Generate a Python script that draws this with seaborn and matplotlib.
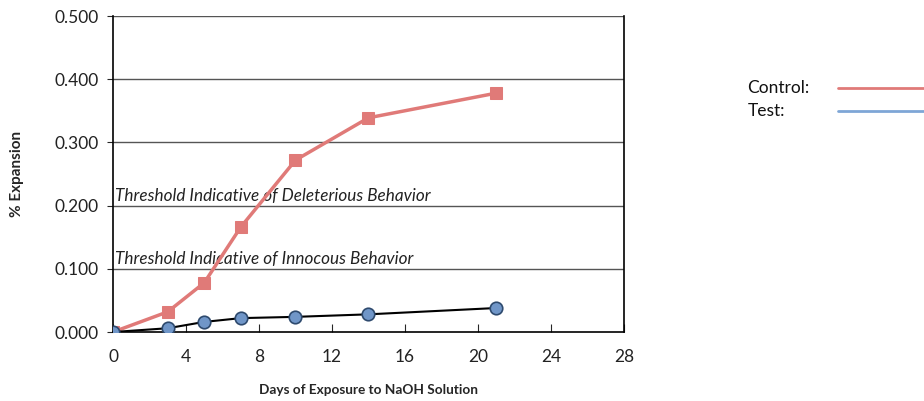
import matplotlib
matplotlib.use("Agg")
import matplotlib.pyplot as plt
import seaborn as sns
import pandas as pd
from matplotlib.lines import Line2D

# 数据
days_control = [0, 3, 5, 7, 10, 14, 21]
exp_control = [0.000, 0.032, 0.078, 0.166, 0.272, 0.339, 0.378]
days_test = [0, 3, 5, 7, 10, 14, 21]
exp_test = [0.000, 0.006, 0.016, 0.022, 0.024, 0.028, 0.038]
x_ticks = [0, 4, 8, 12, 16, 20, 24, 28]
y_ticks = [0.0, 0.1, 0.2, 0.3, 0.4, 0.5]
thresholds = [0.200, 0.100]
threshold_labels = ["Threshold Indicative of Deleterious Behavior",
                    "Threshold Indicative of Innocous Behavior"]
legend_labels = ["Control:", "Test:"]

df_c = pd.DataFrame({"day": days_control, "exp": exp_control})
df_t = pd.DataFrame({"day": days_test, "exp": exp_test})

sns.set_style("white")
plt.rcParams["font.family"] = ["Lato", "DejaVu Sans"]

red = "#E07A78"
blue = "#7EA6D6"

fig = plt.figure(figsize=(9.24, 4.01), dpi=100)
ax = fig.add_axes([0.1223, 0.172, 0.553, 0.788])

# 网格线
for y in y_ticks[1:]:
    ax.axhline(y, color="#555555", lw=1.0, zorder=1)

sns.lineplot(data=df_c, x="day", y="exp", ax=ax, color=red, lw=2.5,
             marker="s", markersize=8, markeredgecolor=red, zorder=3)
sns.lineplot(data=df_t, x="day", y="exp", ax=ax, color="black", lw=1.5,
             marker="o", markersize=9, markerfacecolor="#7096C8",
             markeredgecolor="#2E4A6E", markeredgewidth=1.2, zorder=4)

for y, lab in zip(thresholds, threshold_labels):
    ax.text(0.1, y + 0.003, lab, fontstyle="italic", fontsize=12.3,
            va="bottom", ha="left", color="#222222", zorder=2)

ax.set_xlim(0, 28)
ax.set_ylim(0, 0.5)
ax.set_xticks(x_ticks)
ax.set_yticks(y_ticks)
ax.set_yticklabels([f"{v:.3f}" for v in y_ticks])
ax.tick_params(axis="x", direction="in", length=6, labelsize=12.5, pad=12,
               labelcolor="#222222")
ax.tick_params(axis="y", direction="out", length=4, labelsize=12.5, pad=6,
               labelcolor="#222222")
ax.tick_params(bottom=True, left=True)
for s in ["left", "right", "bottom"]:
    ax.spines[s].set_color("black")
    ax.spines[s].set_linewidth(1.2)
ax.spines["top"].set_visible(False)

ax.set_xlabel("Days of Exposure to NaOH Solution", fontweight="bold",
              fontsize=9.8, labelpad=14)
ax.set_ylabel("% Expansion", fontweight="bold", fontsize=11, labelpad=22)

# 图例 (文字在前, 线在后)
legend_colors = [red, blue]
legend_y = [0.78, 0.723]
for lab, col, ly in zip(legend_labels, legend_colors, legend_y):
    fig.text(0.809, ly, lab, fontsize=12.5, va="center", ha="left",
             color="#111111")
    fig.add_artist(Line2D([0.907, 1.0], [ly, ly], color=col, lw=2,
                          transform=fig.transFigure))

plt.savefig("out.png", dpi=100)
plt.close()
